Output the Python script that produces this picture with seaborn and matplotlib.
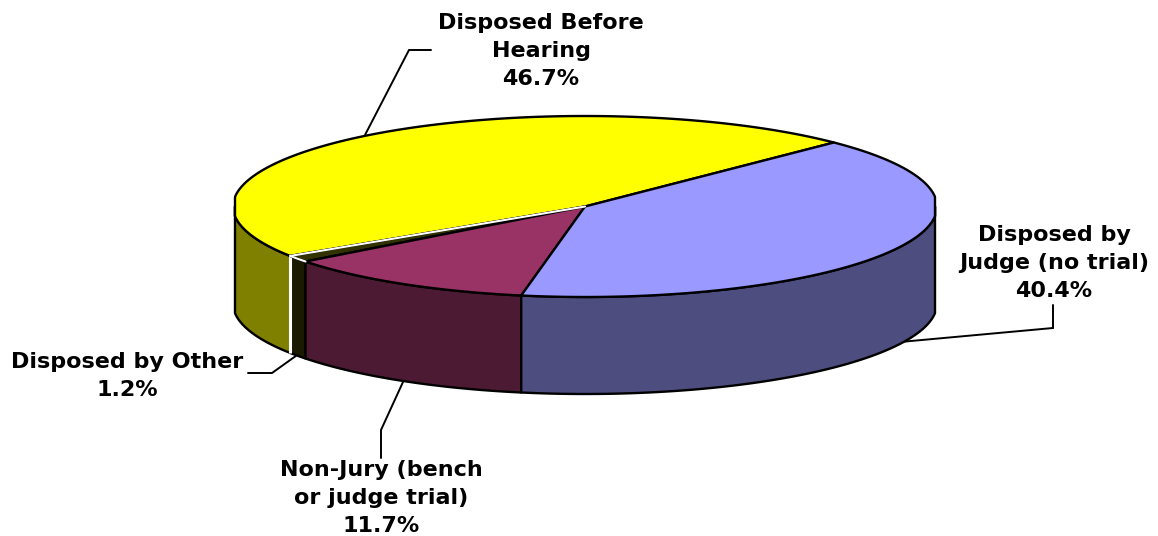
import numpy as np
import matplotlib
matplotlib.use('Agg')
import matplotlib.pyplot as plt
import seaborn as sns

categories = ['Disposed Before\nHearing', 'Disposed by Other', 'Non-Jury (bench\nor judge trial)', 'Disposed by\nJudge (no trial)']
shares = [46.7, 1.2, 11.7, 40.4]
top_colors = ['#FFFF00', '#333300', '#993366', '#9999FF']
side_colors = ['#808000', '#1A1A00', '#4D1A33', '#4D4D80']

# label centre and leader line for each slice, in pixels
label_pos = [(541, 51), (127, 376), (381, 498), (1054, 263)]
leaders = [
    [(365, 135), (409, 50), (431, 50)],
    [(300, 353), (272, 373), (248, 373)],
    [(403, 382), (381, 430), (381, 458)],
    [(900, 342), (1053, 328), (1053, 305)],
]

CX, CY, RX, RY, DEPTH = 585, 206.5, 352, 90.5, 97
XMIN, XMAX = 235, 935  # the source image has its rim cut flat at the sides
START = 45

sns.set_theme(style='white')
plt.rcParams['font.family'] = ['DejaVu Sans']


def rim(a0, a1, drop=0):
    t = np.radians(np.linspace(a0, a1, 200))
    x = np.clip(CX + RX * np.cos(t), XMIN, XMAX)
    return x, CY - RY * np.sin(t) + drop


fig, ax = plt.subplots(figsize=(11.58, 5.36), dpi=100)
fig.subplots_adjust(0, 0, 1, 1)
ax.set_xlim(0, 1158)
ax.set_ylim(536, 0)
ax.axis('off')

edges = START + np.cumsum([0] + shares) * 3.6

# walls, only the front half of the rim shows
for i in range(len(shares)):
    a0 = max(edges[i], 180)
    a1 = min(edges[i + 1], 360)
    if a1 <= a0:
        continue
    x, y = rim(a0, a1)
    xb, yb = rim(a1, a0, DEPTH)
    ax.fill(np.r_[x, xb], np.r_[y, yb], facecolor=side_colors[i],
            edgecolor='black', linewidth=1.7, joinstyle='round', zorder=2)

# white seam down the left side of the small slice
x, y = rim(edges[1], edges[1])
ax.plot([x[0], x[0]], [y[0], y[0] + DEPTH], color='white', lw=2.2, zorder=3,
        solid_capstyle='butt')

# top face
for i in range(len(shares)):
    x, y = rim(edges[i], edges[i + 1])
    ax.fill(np.r_[CX, x], np.r_[CY, y], facecolor=top_colors[i],
            edgecolor='black', linewidth=1.7, joinstyle='round', zorder=4)

# small slice gets white edges, drawn over its neighbours
x, y = rim(edges[1], edges[2])
ax.plot([CX, x[0]], [CY, y[0]], color='white', lw=1.5, zorder=5)
ax.plot(x, y, color='white', lw=1.5, zorder=5)

for pts in leaders:
    ax.plot(*zip(*pts), color='black', lw=1.4, zorder=1, solid_joinstyle='miter')

for name, share, (lx, ly) in zip(categories, shares, label_pos):
    ax.text(lx, ly, f'{name}\n{share}%', ha='center', va='center', fontsize=16,
            fontweight='bold', color='black', linespacing=1.5, zorder=6)

fig.savefig('out.png', dpi=100, facecolor='white')
